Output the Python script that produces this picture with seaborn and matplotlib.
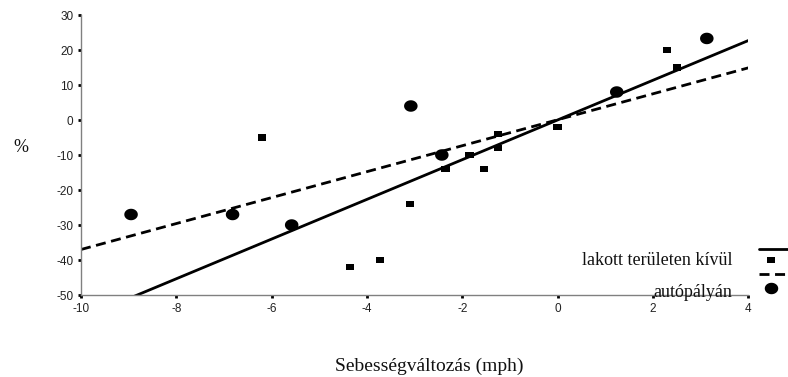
import numpy as np
import pandas as pd
import seaborn as sns
import matplotlib
matplotlib.use('Agg')
import matplotlib.pyplot as plt
from matplotlib.lines import Line2D


# lakott területen kívül (squares)
OUTSIDE_X = [-6.2, -4.35, -3.73, -3.1, -2.35, -1.85, -1.55, -1.25, -1.25, 0.0, 2.3, 2.5]
OUTSIDE_Y = [-5, -42, -40, -24, -14, -10, -14, -4, -8, -2, 20, 15]

# autópályán (circles)
MOTORWAY_X = [-8.95, -6.82, -5.58, -3.08, -2.43, 1.24, 3.13]
MOTORWAY_Y = [-27, -27, -30, 4, -10, 8, 23.3]

# trend lines, end points
SOLID_X = [-10, 4]
SOLID_Y = [-56.7, 22.7]
DASHED_X = [-10, 4]
DASHED_Y = [-37, 14.9]

X_TICKS = [-10, -8, -6, -4, -2, 0, 2, 4]
Y_TICKS = [-50, -40, -30, -20, -10, 0, 10, 20, 30]

LABELS = ['lakott területen kívül', 'autópályán']
X_LABEL = 'Sebességváltozás (mph)'
Y_LABEL = '%'


def ellipse(ratio):
    t = np.linspace(0, 2 * np.pi, 40)
    return list(zip(np.cos(t), ratio * np.sin(t)))


def rect(ratio):
    return [(-1, -ratio), (1, -ratio), (1, ratio), (-1, ratio), (-1, -ratio)]


def main():
    sns.set_theme(style='white')
    plt.rcParams['font.family'] = ['Liberation Sans', 'DejaVu Sans']
    plt.rcParams['axes.unicode_minus'] = False

    fig = plt.figure(figsize=(7.88, 3.77), dpi=100)
    ax = fig.add_axes([0.1028, 0.2175, 0.8468, 0.7427])

    sq = pd.DataFrame({'x': OUTSIDE_X, 'y': OUTSIDE_Y})
    ci = pd.DataFrame({'x': MOTORWAY_X, 'y': MOTORWAY_Y})

    dash = (0, (3.6, 2.0))
    sns.lineplot(x=SOLID_X, y=SOLID_Y, color='black', lw=2.0, ax=ax)
    sns.lineplot(x=DASHED_X, y=DASHED_Y, color='black', lw=2.0,
                 linestyle=dash, ax=ax)
    sns.scatterplot(data=sq, x='x', y='y', marker=rect(0.75), s=36,
                    color='black', edgecolor='none', ax=ax, zorder=3)
    sns.scatterplot(data=ci, x='x', y='y', marker=ellipse(0.85), s=95,
                    color='black', edgecolor='none', ax=ax, zorder=3)

    ax.set_xlim(-10, 4)
    ax.set_ylim(-50, 30)
    ax.set_xticks(X_TICKS)
    ax.set_yticks(Y_TICKS)
    ax.set_xlabel('')
    ax.set_ylabel('')
    sns.despine(ax=ax)
    for s in ['left', 'bottom']:
        ax.spines[s].set_color('#808080')
        ax.spines[s].set_linewidth(1.0)
    ax.tick_params(axis='both', direction='out', length=2.5, width=2.0,
                   color='black', labelsize=8.5, labelcolor='#222222',
                   bottom=True, left=True)
    ax.tick_params(axis='y', pad=3)
    ax.tick_params(axis='x', pad=3)
    ax.set_facecolor('white')

    serif = ['Liberation Serif', 'DejaVu Serif']
    fig.text(429 / 788, 1 - 371 / 377, X_LABEL, family=serif, fontsize=14,
             ha='center', va='baseline', color='#111111')
    fig.text(21 / 788, 1 - 148 / 377, Y_LABEL, family=serif, fontsize=13,
             ha='center', va='center', color='#111111')

    # legend on the right, text first, handles after it
    fig.text(733 / 788, 1 - 265 / 377, LABELS[0], family=serif, fontsize=13,
             ha='right', va='baseline', color='#111111')
    fig.text(732 / 788, 1 - 297 / 377, LABELS[1], family=serif, fontsize=13,
             ha='right', va='baseline', color='#111111', zorder=5)
    W, H = 788, 377
    fig.add_artist(Line2D([759 / W, 800 / W], [1 - 249 / H] * 2,
                          color='black', lw=2.0))
    fig.add_artist(Line2D([771 / W], [1 - 260 / H], marker=rect(0.75),
                          markersize=6, color='black', lw=0,
                          markeredgewidth=0))
    fig.add_artist(Line2D([759 / W, 800 / W], [1 - 274 / H] * 2,
                          color='black', lw=2.0, linestyle=dash))
    fig.add_artist(Line2D([771 / W], [1 - 288 / H], marker=ellipse(0.85),
                          markersize=9.7, color='black', lw=0,
                          markeredgewidth=0))

    fig.savefig('out.png', dpi=100, facecolor='white')


if __name__ == '__main__':
    main()
